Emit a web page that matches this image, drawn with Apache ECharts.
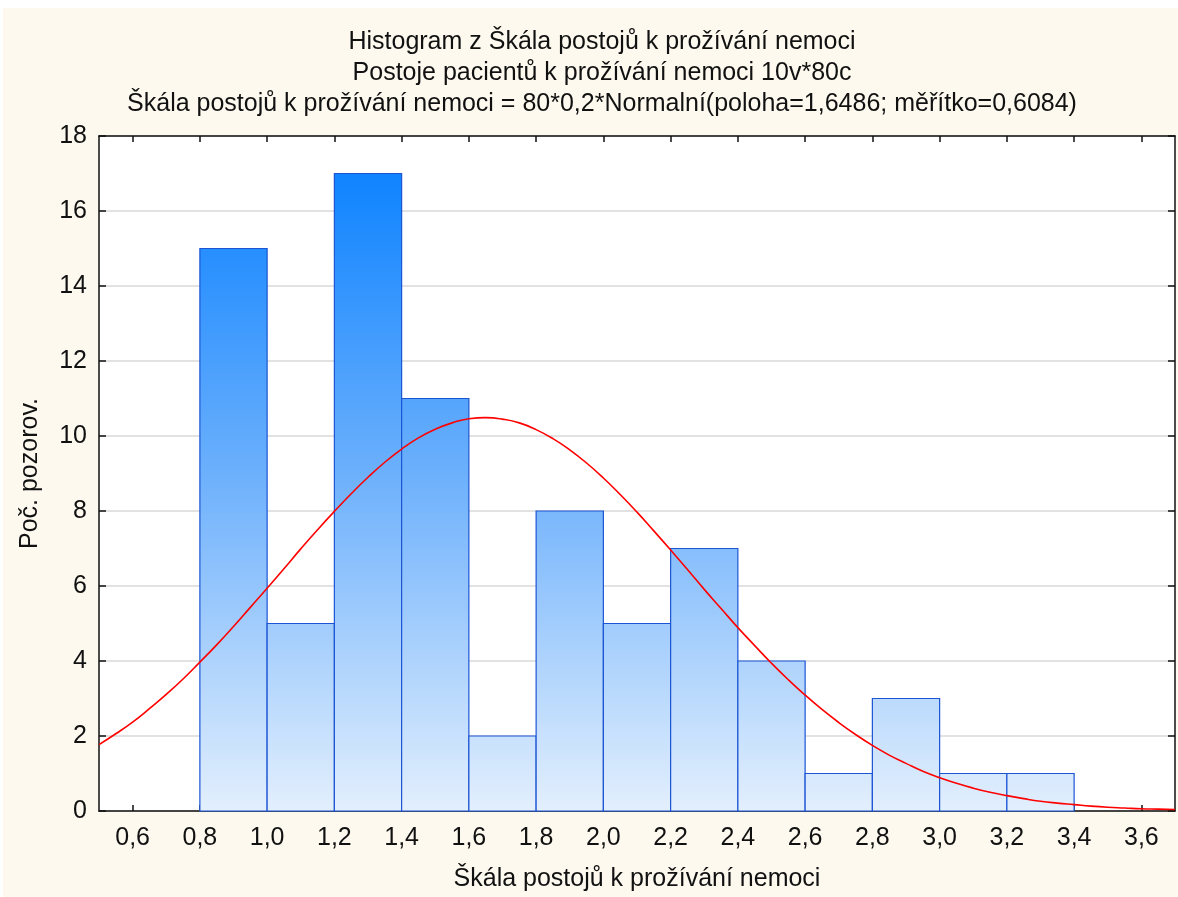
<!DOCTYPE html>
<html>
<head>
<meta charset="utf-8">
<script src="https://cdn.jsdelivr.net/npm/echarts@6/dist/echarts.min.js"></script>
<style>
html,body{margin:0;padding:0;background:#ffffff;}
#c{width:1178px;height:897px;}
</style>
</head>
<body>
<div id="c"></div>
<script>
// ---- data ----
const titleLines = [
  'Histogram z Škála postojů k prožívání nemoci',
  'Postoje pacientů k prožívání nemoci 10v*80c',
  'Škála postojů k prožívání nemoci = 80*0,2*Normalní(poloha=1,6486; měřítko=0,6084)'
];
const xAxisName = 'Škála postojů k prožívání nemoci';
const yAxisName = 'Poč. pozorov.';
const binStart = [0.8, 1.0, 1.2, 1.4, 1.6, 1.8, 2.0, 2.2, 2.4, 2.6, 2.8, 3.0, 3.2];
const binEnd   = [1.0, 1.2, 1.4, 1.6, 1.8, 2.0, 2.2, 2.4, 2.6, 2.8, 3.0, 3.2, 3.4];
const counts   = [15, 5, 17, 11, 2, 8, 5, 7, 4, 1, 3, 1, 1];
const curveX = [0.5,0.55,0.6,0.65,0.7,0.75,0.8,0.85,0.9,0.95,1.0,1.05,1.1,1.15,1.2,1.25,1.3,1.35,1.4,1.45,1.5,1.55,1.6,1.65,1.7,1.75,1.8,1.85,1.9,1.95,2.0,2.05,2.1,2.15,2.2,2.25,2.3,2.35,2.4,2.45,2.5,2.55,2.6,2.65,2.7,2.75,2.8,2.85,2.9,2.95,3.0,3.05,3.1,3.15,3.2,3.25,3.3,3.35,3.4,3.45,3.5,3.55,3.6,3.65,3.7];
const curveY = [1.77,2.06,2.37,2.73,3.11,3.52,3.97,4.43,4.92,5.43,5.94,6.46,6.99,7.50,7.99,8.46,8.90,9.30,9.65,9.95,10.18,10.35,10.46,10.49,10.45,10.35,10.17,9.93,9.63,9.28,8.88,8.44,7.97,7.47,6.96,6.44,5.91,5.40,4.89,4.41,3.94,3.50,3.09,2.71,2.36,2.04,1.75,1.49,1.27,1.06,0.89,0.74,0.61,0.50,0.41,0.33,0.26,0.21,0.17,0.13,0.10,0.08,0.06,0.05,0.04];
const xTicks = [0.6,0.8,1.0,1.2,1.4,1.6,1.8,2.0,2.2,2.4,2.6,2.8,3.0,3.2,3.4,3.6];
const xMin = 0.5, xMax = 3.7;
const yMin = 0, yMax = 18, yStep = 2;

// ---- chart ----
const chart = echarts.init(document.getElementById('c'), null, {renderer:'canvas'});
const FONT = 'Liberation Sans, Arial, sans-serif';
const FS = 25;
const fmtX = v => v.toFixed(1).replace('.', ',');
const barData = binStart.map((s, i) => [s, binEnd[i], counts[i]]);
const lineData = curveX.map((x, i) => [x, curveY[i]]);

const option = {
  backgroundColor: '#fdf9ef',
  animation: false,
  title: titleLines.map((t, i) => ({
    text: t, left: 597, textAlign: 'center', top: 25 + i * 31,
    textStyle: {fontFamily: FONT, fontSize: FS, fontWeight: 'normal', color: '#111'}
  })),
  graphic: [
    {type:'rect', left:0, top:0, shape:{width:1178, height:8}, style:{fill:'#ffffff'}, silent:true},
    {type:'rect', left:0, top:0, shape:{width:3, height:897}, style:{fill:'#ffffff'}, silent:true}
  ],
  grid: {left: 99, right: 3, top: 136, bottom: 84, show: true, backgroundColor: '#ffffff', borderWidth: 0},
  xAxis: [
    {
      type: 'value', min: xMin, max: xMax, position: 'bottom',
      name: xAxisName, nameLocation: 'middle', nameGap: 56,
      nameTextStyle: {fontFamily: FONT, fontSize: FS, color: '#111'},
      axisLine: {show: true, onZero: false, lineStyle: {color: '#111', width: 1.5}},
      axisTick: {show: true, inside: true, length: 6, customValues: xTicks, lineStyle: {color: '#111', width: 1.5}},
      axisLabel: {show: true, customValues: xTicks, formatter: fmtX, margin: 15,
                  fontFamily: FONT, fontSize: FS, color: '#111'},
      splitLine: {show: false}
    },
    {
      type: 'value', min: xMin, max: xMax, position: 'top',
      axisLine: {show: true, onZero: false, lineStyle: {color: '#111', width: 1.5}},
      axisTick: {show: true, inside: true, length: 6, customValues: xTicks, lineStyle: {color: '#111', width: 1.5}},
      axisLabel: {show: false},
      splitLine: {show: false}
    }
  ],
  yAxis: [
    {
      type: 'value', min: yMin, max: yMax, interval: yStep, position: 'left',
      name: yAxisName, nameLocation: 'middle', nameGap: 56, nameRotate: 90,
      nameTextStyle: {fontFamily: FONT, fontSize: FS, color: '#111'},
      axisLine: {show: true, onZero: false, lineStyle: {color: '#111', width: 1.5}},
      axisTick: {show: true, inside: true, length: 7, lineStyle: {color: '#111', width: 1.5}},
      axisLabel: {show: true, margin: 12, padding: [4, 0, 0, 0], fontFamily: FONT, fontSize: FS, color: '#111'},
      splitLine: {show: true, lineStyle: {color: '#d8d8d8', width: 1.5}}
    },
    {
      type: 'value', min: yMin, max: yMax, interval: yStep, position: 'right',
      axisLine: {show: true, onZero: false, lineStyle: {color: '#111', width: 1.5}},
      axisTick: {show: true, inside: true, length: 7, lineStyle: {color: '#111', width: 1.5}},
      axisLabel: {show: false},
      splitLine: {show: false}
    }
  ],
  series: [
    {
      type: 'custom', xAxisIndex: 0, yAxisIndex: 0, z: 3,
      data: barData,
      renderItem: function (params, api) {
        const p0 = api.coord([api.value(0), api.value(2)]);
        const p1 = api.coord([api.value(1), 0]);
        const gTop = api.coord([xMin, yMax])[1];
        const gBot = api.coord([xMin, yMin])[1];
        const grad = new echarts.graphic.LinearGradient(0, gTop, 0, gBot, [
          {offset: 0, color: '#007dff'},
          {offset: 0.06, color: '#1084ff'},
          {offset: 0.5, color: '#6cb0fc'},
          {offset: 1, color: '#e3effd'}
        ], true);
        return {
          type: 'rect',
          shape: {x: p0[0], y: p0[1], width: p1[0] - p0[0], height: p1[1] - p0[1]},
          style: {fill: grad, stroke: '#1c55d4', lineWidth: 1.2}
        };
      }
    },
    {
      type: 'line', xAxisIndex: 0, yAxisIndex: 0, z: 5,
      data: lineData, smooth: true, showSymbol: false, symbol: 'none',
      lineStyle: {color: '#ff0000', width: 1.6},
      clip: true
    }
  ]
};
chart.setOption(option);
</script>
</body>
</html>
